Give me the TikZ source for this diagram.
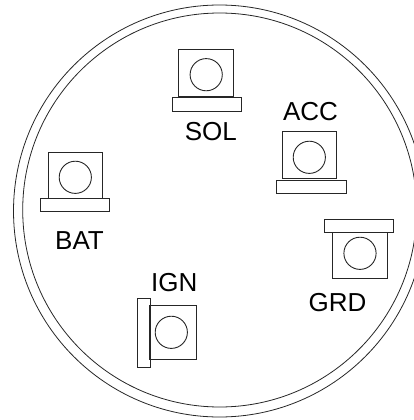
\documentclass[tikz,border=0pt]{standalone}
\usepackage{fontspec}
\setmainfont{Liberation Sans}
\tikzset{
  part/.style={draw=black!85, line width=0.9pt},
  ring/.style={draw=black!85, line width=0.8pt},
  lab/.style={anchor=base, inner sep=0pt, outer sep=0pt, text=black, font=\fontsize{26}{30}\selectfont},
}
\begin{document}
\begin{tikzpicture}[x=1pt,y=-1pt]
\useasboundingbox (0,0) rectangle (414,420);
\clip (0,0) rectangle (414,420);
% rings
\draw[ring] (219.5,211) circle[radius=206];
\draw[ring] (219.7,210) circle[radius=197];
% SOL
\draw[part] (178.7,49.3) rectangle (233.3,96.3);
\draw[part] (206.2,74.7) circle[radius=16.1];
\draw[part] (172.3,97.7) rectangle (241.3,111);
\node[lab] (sol) at (210.8,140.7) {SOL};
% BAT
\draw[part] (48.7,152.7) rectangle (102.7,198.7);
\draw[part] (75.3,177.3) circle[radius=16.1];
\draw[part] (40.3,198.5) rectangle (109.3,211.3);
\node[lab] (bat) at (79.5,249) {BAT};
% ACC
\draw[part] (282.3,131.7) rectangle (336.7,178.3);
\draw[part] (309.3,157.3) circle[radius=16.1];
\draw[part] (276.7,180.3) rectangle (346,193.3);
\node[lab] (acc) at (310.5,120) {ACC};
% IGN
\draw[part] (149.7,305.3) rectangle (196.7,359.7);
\draw[part] (171.3,332.3) circle[radius=16.1];
\draw[part] (137.3,298.7) rectangle (150.7,367.7);
\node[lab] (ign) at (174.2,291) {IGN};
% GRD
\draw[part] (332.7,232) rectangle (387,278.3);
\draw[part] (360,253.3) circle[radius=16.1];
\draw[part] (324.3,219.3) rectangle (393.7,232.3);
\node[lab] (grd) at (337.6,311.7) {GRD};
\end{tikzpicture}
\end{document}
